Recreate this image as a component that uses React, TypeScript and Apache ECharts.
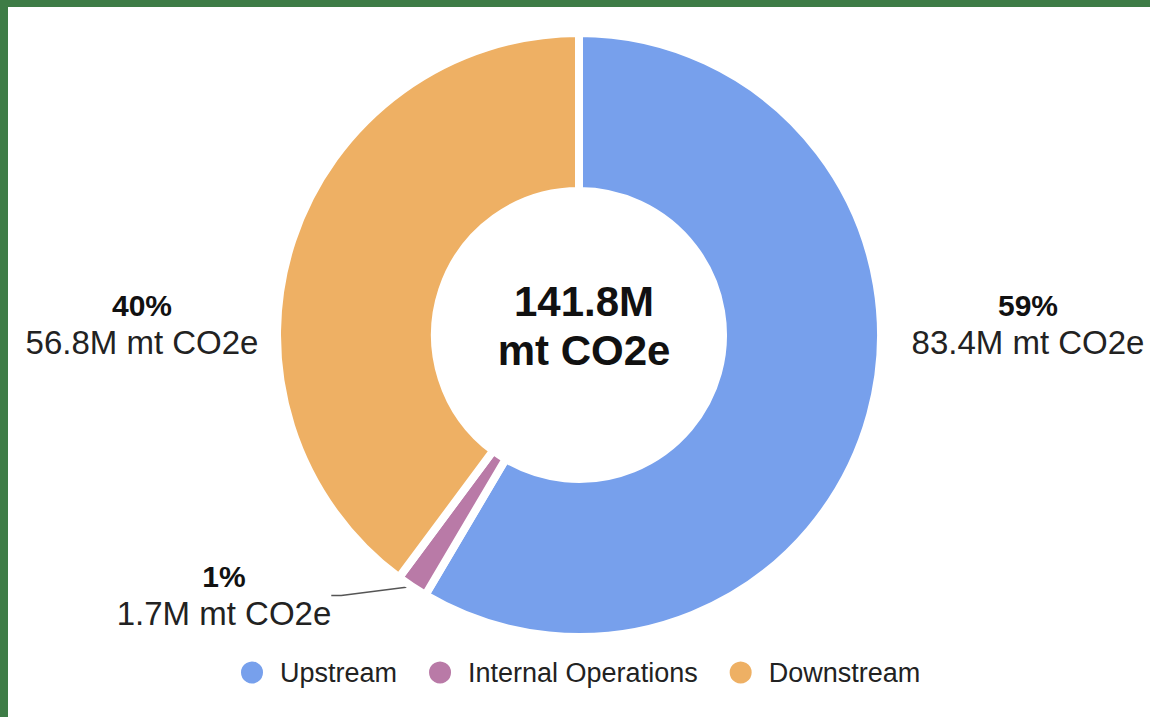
import React, { useEffect, useRef } from "react";
import * as echarts from "echarts";

const categories = ["Upstream", "Internal Operations", "Downstream"];
const emissionsM = [83.4, 1.7, 56.8];
const sliceColors = ["#77a0ec", "#b97aa7", "#eeb064"];
const totalLines = ["141.8M", "mt CO2e"];
const unitSuffix = "M mt CO2e";

const FONT = "'Liberation Sans', Arial, Helvetica, sans-serif";

export default function App() {
  const ref = useRef<HTMLDivElement>(null);

  useEffect(() => {
    if (!ref.current) return;
    const chart = echarts.init(ref.current, null, { renderer: "svg" });
    const labelSpots = [
      { x: 1028, y: 324 },
      { x: 224, y: 595 },
      { x: 142, y: 324 },
    ];
    chart.setOption({
      animation: false,
      backgroundColor: "#ffffff",
      textStyle: { fontFamily: FONT },
      legend: {
        left: 234,
        top: 654,
        icon: "circle",
        itemWidth: 46,
        itemHeight: 24,
        itemGap: 30,
        selectedMode: false,
        textStyle: { fontSize: 27, color: "#222222", fontFamily: FONT },
        data: categories,
      },
      graphic: [
        { type: "rect", shape: { x: 0, y: 0, width: 1150, height: 7 }, style: { fill: "#3e7c46" } },
        { type: "rect", shape: { x: 0, y: 0, width: 8, height: 717 }, style: { fill: "#3e7c46" } },
        {
          type: "text",
          x: 584,
          y: 325.5,
          style: {
            text: totalLines.join("\n"),
            fontSize: 42,
            fontWeight: "bold",
            lineHeight: 49,
            align: "center",
            verticalAlign: "middle",
            fill: "#111111",
            fontFamily: FONT,
          },
        },
      ],
      series: [
        {
          type: "pie",
          center: [579, 335],
          radius: [144, 302],
          startAngle: 90,
          clockwise: true,
          minAngle: 6,
          avoidLabelOverlap: false,
          percentPrecision: 0,
          emphasis: { disabled: true },
          itemStyle: { borderColor: "#ffffff", borderWidth: 8 },
          label: {
            show: true,
            position: "outside",
            formatter: "{pct|{d}%}\n{val|{c}" + unitSuffix + "}",
            rich: {
              pct: { fontSize: 30, fontWeight: "bold", lineHeight: 36, color: "#111111", fontFamily: FONT },
              val: { fontSize: 33, lineHeight: 37, color: "#222222", fontFamily: FONT },
            },
          },
          labelLine: {
            show: true,
            length: 10,
            length2: 10,
            lineStyle: { color: "#555555", width: 1.5 },
          },
          labelLayout: (p: any) => ({
            x: labelSpots[p.dataIndex].x,
            y: labelSpots[p.dataIndex].y,
            align: "center",
            verticalAlign: "middle",
          }),
          data: categories.map((name, i) => ({
            name,
            value: emissionsM[i],
            itemStyle: { color: sliceColors[i] },
            labelLine: { show: i === 1 },
          })),
        },
      ],
    });
    return () => chart.dispose();
  }, []);

  return (
    <div
      ref={ref}
      style={{ position: "fixed", left: 0, top: 0, width: 1150, height: 717 }}
    />
  );
}
